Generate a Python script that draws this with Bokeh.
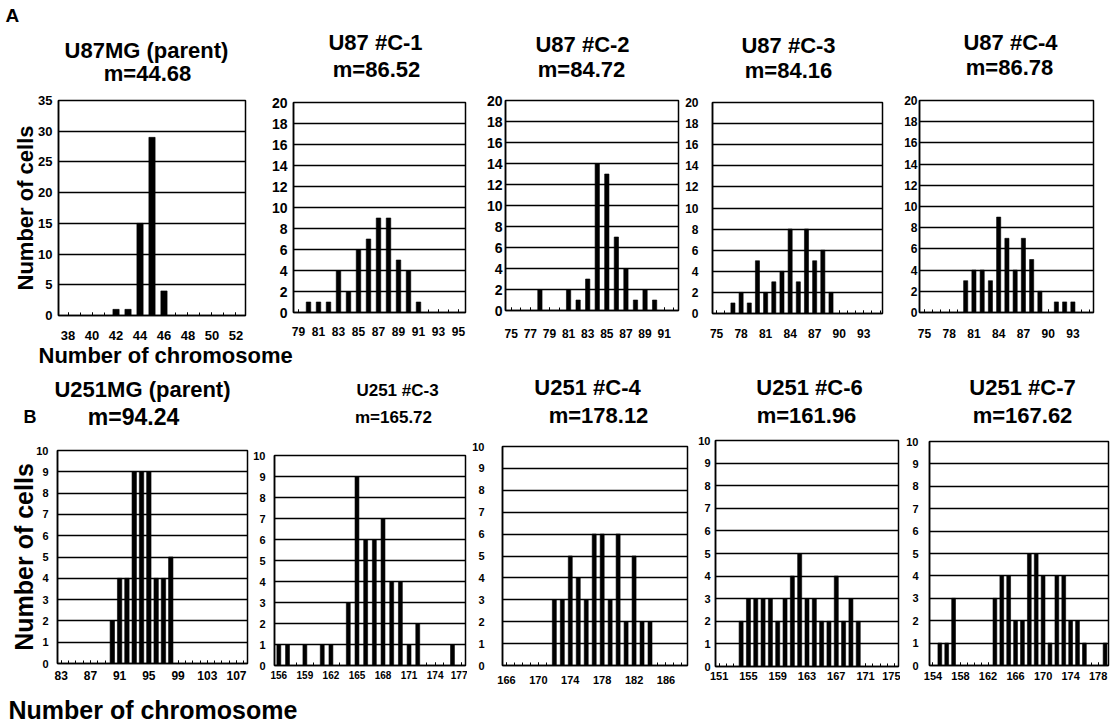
import math
from bokeh.plotting import figure
from bokeh.layouts import column, row
from bokeh.models import Range1d, FixedTicker, Label
from bokeh.embed import file_html
from bokeh.resources import INLINE

FONT = "Liberation Sans"

# ---------------- data: chromosome number -> number of cells ----------------
u87mg_chrom = [42, 43, 44, 45, 46]
u87mg_cells = [1, 1, 15, 29, 4]
u87c1_chrom = [80, 81, 82, 83, 84, 85, 86, 87, 88, 89, 90, 91]
u87c1_cells = [1, 1, 1, 4, 2, 6, 7, 9, 9, 5, 4, 1]
u87c2_chrom = [78, 81, 82, 83, 84, 85, 86, 87, 88, 89, 90]
u87c2_cells = [2, 2, 1, 3, 14, 13, 7, 4, 1, 2, 1]
u87c3_chrom = [77, 78, 79, 80, 81, 82, 83, 84, 85, 86, 87, 88, 89]
u87c3_cells = [1, 2, 1, 5, 2, 3, 4, 8, 3, 8, 5, 6, 2]
u87c4_chrom = [80, 81, 82, 83, 84, 85, 86, 87, 88, 89, 91, 92, 93]
u87c4_cells = [3, 4, 4, 3, 9, 7, 4, 7, 5, 2, 1, 1, 1]

u251mg_chrom = [90, 91, 92, 93, 94, 95, 96, 97, 98]
u251mg_cells = [2, 4, 4, 9, 9, 9, 4, 4, 5]
u251c3_chrom = [156, 157, 159, 161, 162, 164, 165, 166, 167, 168, 169, 170, 171, 172, 176]
u251c3_cells = [1, 1, 1, 1, 1, 3, 9, 6, 6, 7, 4, 4, 1, 2, 1]
u251c4_chrom = [172, 173, 174, 175, 176, 177, 178, 179, 180, 181, 182, 183, 184]
u251c4_cells = [3, 3, 5, 4, 3, 6, 6, 3, 6, 2, 5, 2, 2]
u251c6_chrom = [154, 155, 156, 157, 158, 159, 160, 161, 162, 163, 164, 165, 166, 167, 168, 169, 170]
u251c6_cells = [2, 3, 3, 3, 3, 2, 3, 4, 5, 3, 3, 2, 2, 4, 2, 3, 2]
u251c7_chrom = [155, 156, 157, 163, 164, 165, 166, 167, 168, 169, 170, 171, 172, 173, 174, 175, 176, 179]
u251c7_cells = [1, 1, 3, 3, 4, 4, 2, 2, 5, 5, 4, 1, 4, 4, 2, 2, 1, 1]

# ---------------- tick labels and axis extents ----------------
u87mg_ticks = [38, 40, 42, 44, 46, 48, 50, 52]
u87c1_ticks = [79, 81, 83, 85, 87, 89, 91, 93, 95]
u87c2_ticks = [75, 77, 79, 81, 83, 85, 87, 89, 91]
u87c3_ticks = [75, 78, 81, 84, 87, 90, 93]
u87c4_ticks = [75, 78, 81, 84, 87, 90, 93]
u251mg_ticks = [83, 87, 91, 95, 99, 103, 107]
u251c3_ticks = [156, 159, 162, 165, 168, 171, 174, 177]
u251c4_ticks = [166, 170, 174, 178, 182, 186]
u251c6_ticks = [151, 155, 159, 163, 167, 171, 175]
u251c7_ticks = [154, 158, 162, 166, 170, 174, 178]

u87mg_xr = (37.2, 52.8)
u87c1_xr = (78.5, 95.7)
u87c2_xr = (74.4, 92.5)
u87c3_xr = (74.5, 95.3)
u87c4_xr = (74.4, 95.5)
u251mg_xr = (82.5, 108.5)
u251c3_xr = (155.5, 177.5)
u251c4_xr = (165.5, 188.7)
u251c6_xr = (150.5, 175.5)
u251c7_xr = (153.5, 179.5)

names_a = ["U87MG (parent)", "U87 #C-1", "U87 #C-2", "U87 #C-3", "U87 #C-4"]
means_a = ["m=44.68", "m=86.52", "m=84.72", "m=84.16", "m=86.78"]
names_b = ["U251MG (parent)", "U251 #C-3", "U251 #C-4", "U251 #C-6", "U251 #C-7"]
means_b = ["m=94.24", "m=165.72", "m=178.12", "m=161.96", "m=167.62"]


def panel(chrom, cells, xr, xticks, ymax, ystep, width, height, bl, br, bt, bb,
          xfs=12, yfs=13, xstand=14, ystand=5, bar_w=0.5, ylabel=None, ylsize=22,
          ylstand=0):
    p = figure(width=width, height=height, x_range=Range1d(*xr), y_range=Range1d(0, ymax),
               output_backend="svg", toolbar_location=None, title=None,
               min_border_left=bl, min_border_right=br, min_border_top=bt,
               min_border_bottom=bb, background_fill_color="white",
               border_fill_color="white", frame_align=False)
    p.vbar(x=chrom, top=cells, width=bar_w, bottom=0, fill_color="black",
           line_color="black", line_width=0.6)
    p.outline_line_color = "black"
    p.outline_line_width = 1.5
    p.outline_line_alpha = 1.0

    lo, hi = math.ceil(xr[0]), math.floor(xr[1])
    p.xaxis.ticker = FixedTicker(ticks=xticks, minor_ticks=list(range(lo, hi + 1)))
    p.xaxis.major_tick_in = 3
    p.xaxis.major_tick_out = 0
    p.xaxis.minor_tick_in = 3
    p.xaxis.minor_tick_out = 0
    p.xaxis.major_tick_line_color = "black"
    p.xaxis.minor_tick_line_color = "black"
    p.xaxis.axis_line_color = "black"
    p.xaxis.axis_line_width = 1.5
    p.xaxis.major_label_standoff = xstand
    p.xaxis.major_label_text_font = FONT
    p.xaxis.major_label_text_font_size = f"{xfs}px"
    p.xaxis.major_label_text_font_style = "bold"
    p.xaxis.major_label_text_color = "black"

    p.yaxis.ticker = FixedTicker(ticks=list(range(0, ymax + 1, ystep)))
    p.yaxis.major_tick_in = 0
    p.yaxis.major_tick_out = 0
    p.yaxis.minor_tick_line_color = None
    p.yaxis.axis_line_color = "black"
    p.yaxis.axis_line_width = 1.5
    p.yaxis.major_label_standoff = ystand
    p.yaxis.major_label_text_font = FONT
    p.yaxis.major_label_text_font_size = f"{yfs}px"
    p.yaxis.major_label_text_font_style = "bold"
    p.yaxis.major_label_text_color = "black"
    if ylabel:
        p.yaxis.axis_label = ylabel
        p.yaxis.axis_label_text_font = FONT
        p.yaxis.axis_label_text_font_size = f"{ylsize}px"
        p.yaxis.axis_label_text_font_style = "bold"
        p.yaxis.axis_label_text_color = "black"
        p.yaxis.axis_label_standoff = ylstand

    p.xgrid.visible = False
    p.ygrid.grid_line_color = "black"
    p.ygrid.grid_line_width = 1.3
    p.ygrid.grid_line_alpha = 1.0
    return p


def text_strip(h, items):
    """items: (text, x, baseline_px_from_top, font_px, align)"""
    s = figure(width=1110, height=h, x_range=Range1d(0, 1110), y_range=Range1d(h, 0),
               output_backend="svg", toolbar_location=None, title=None,
               x_axis_type=None, y_axis_type=None, min_border=0,
               background_fill_color="white", border_fill_color="white")
    s.grid.visible = False
    s.outline_line_color = None
    for text, x, base, fs, align in items:
        s.add_layout(Label(x=x, y=base - 0.35 * fs, text=text, text_font=FONT,
                           text_font_size=f"{fs}px", text_font_style="bold",
                           text_color="black", text_align=align,
                           text_baseline="middle"))
    return s


# ---------------- strip with panel letter A and the row A titles ----------------
top_a = text_strip(88, [
    ("A", 5, 22, 19, "left"),
    (names_a[0], 146, 58, 22, "center"), (means_a[0], 147, 81, 22, "center"),
    (names_a[1], 375, 50, 22, "center"), (means_a[1], 376, 77, 22, "center"),
    (names_a[2], 582, 52, 22, "center"), (means_a[2], 581, 77, 22, "center"),
    (names_a[3], 788, 53, 22, "center"), (means_a[3], 788, 78, 22, "center"),
    (names_a[4], 1010, 50, 22, "center"), (means_a[4], 1009, 75, 22, "center"),
])

# ---------------- row A (88 .. 343) ----------------
HA = 255
a1 = panel(u87mg_chrom, u87mg_cells, u87mg_xr, u87mg_ticks, 35, 5,
           248, HA, 58, 3, 12, 28, xfs=13, yfs=13, xstand=15, ystand=6, bar_w=0.52,
           ylabel="Number of cells", ylsize=22, ylstand=-3)
a2 = panel(u87c1_chrom, u87c1_cells, u87c1_xr, u87c1_ticks, 20, 2,
           219, HA, 45, 2, 14, 31, yfs=14, xstand=14, ystand=6, bar_w=0.45)
a3 = panel(u87c2_chrom, u87c2_cells, u87c2_xr, u87c2_ticks, 20, 2,
           213, HA, 38, 2, 12, 33, yfs=14, xstand=18, ystand=3, bar_w=0.45)
a4 = panel(u87c3_chrom, u87c3_cells, u87c3_xr, u87c3_ticks, 20, 2,
           204, HA, 32, 2, 14, 30, yfs=12, xstand=15, ystand=14, bar_w=0.5)
a5 = panel(u87c4_chrom, u87c4_cells, u87c4_xr, u87c4_ticks, 20, 2,
           226, HA, 35, 17, 12, 31, yfs=12, xstand=16, ystand=2, bar_w=0.5)

sa = text_strip(29, [("Number of chromosome", 38, 20, 22, "left")])

# ---------------- strip with panel letter B and the row B titles ----------------
top_b = text_strip(60, [
    ("B", 23, 51, 18, "left"),
    (names_b[0], 142, 25, 22, "center"), (means_b[0], 133, 53, 23, "center"),
    (names_b[1], 397, 24, 17, "center"), (means_b[1], 393, 51, 17, "center"),
    (names_b[2], 587, 23, 22, "center"), (means_b[2], 598, 51, 22, "center"),
    (names_b[3], 809, 23, 22, "center"), (means_b[3], 806, 51, 22, "center"),
    (names_b[4], 1022, 23, 22, "center"), (means_b[4], 1022, 51, 22, "center"),
])

# ---------------- row B (432 .. 692) ----------------
HB = 260
b1 = panel(u251mg_chrom, u251mg_cells, u251mg_xr, u251mg_ticks, 10, 1,
           249, HB, 57, 2, 18, 29, xfs=12, yfs=11, xstand=7, ystand=9, bar_w=0.6,
           ylabel="Number of cells", ylsize=25, ylstand=-5)
b2 = panel(u251c3_chrom, u251c3_cells, u251c3_xr, u251c3_ticks, 10, 1,
           218, HB, 25, 2, 23, 27, xfs=10, yfs=11, xstand=5, ystand=9, bar_w=0.45)
b3 = panel(u251c4_chrom, u251c4_cells, u251c4_xr, u251c4_ticks, 10, 1,
           222, HB, 35, 2, 14, 27, xfs=11, yfs=11, xstand=10, ystand=18, bar_w=0.5)
b4 = panel(u251c6_chrom, u251c6_cells, u251c6_xr, u251c6_ticks, 10, 1,
           211, HB, 26, 2, 8, 26, xfs=11, yfs=11, xstand=5, ystand=5, bar_w=0.55)
b5 = panel(u251c7_chrom, u251c7_cells, u251c7_xr, u251c7_ticks, 10, 1,
           210, HB, 29, 2, 9, 27, xfs=11, yfs=11, xstand=6, ystand=11, bar_w=0.55)

sb = text_strip(33, [("Number of chromosome", 8, 26, 25, "left")])

layout = column(top_a, row(a1, a2, a3, a4, a5), sa, top_b, row(b1, b2, b3, b4, b5), sb)

open("out.html", "w").write(file_html(layout, INLINE))
